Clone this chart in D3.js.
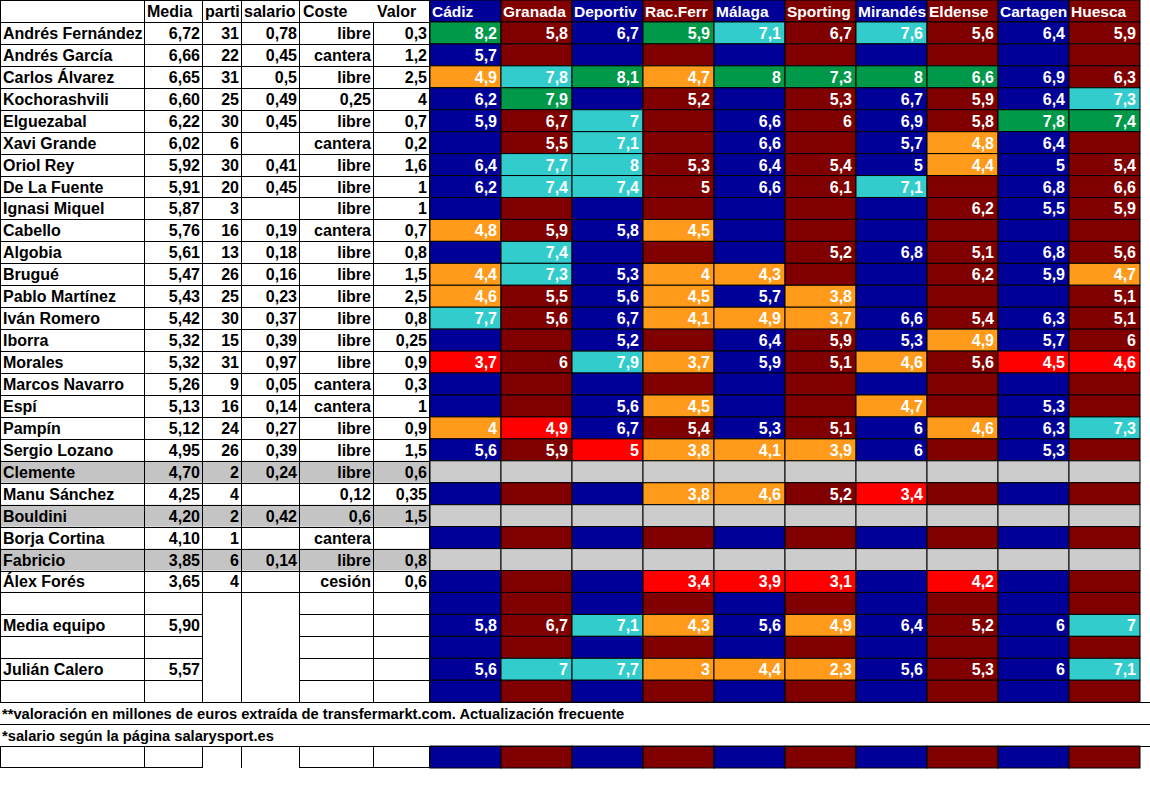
<!DOCTYPE html>
<html><head><meta charset="utf-8">
<script src="https://cdn.jsdelivr.net/npm/d3@7"></script>
<style>
body{margin:0;background:#fff}
svg{display:block}
text{font-family:Arial,"Liberation Sans",sans-serif;font-weight:bold;font-size:16px}
text.note{font-size:14.7px}
text.th{font-size:15.5px}
</style>
</head><body><svg id="c" width="1150" height="790"></svg>
<script>
// ---------- DATA ----------
const teams = ["Cádiz","Granada","Deportivo","Rac.Ferrol","Málaga","Sporting","Mirandés","Eldense","Cartagena","Huesca"];
const teamBase = ["b","m","b","m","b","m","b","m","b","m"];
const headers = ["","Media","parti","salario","Coste","Valor"];
const players = ["Andrés Fernández","Andrés García","Carlos Álvarez","Kochorashvili","Elguezabal","Xavi Grande","Oriol Rey","De La Fuente","Ignasi Miquel","Cabello","Algobia","Brugué","Pablo Martínez","Iván Romero","Iborra","Morales","Marcos Navarro","Espí","Pampín","Sergio Lozano","Clemente","Manu Sánchez","Bouldini","Borja Cortina","Fabricio","Álex Forés","","Media equipo","","Julián Calero",""];
const media = ["6,72","6,66","6,65","6,60","6,22","6,02","5,92","5,91","5,87","5,76","5,61","5,47","5,43","5,42","5,32","5,32","5,26","5,13","5,12","4,95","4,70","4,25","4,20","4,10","3,85","3,65","","5,90","","5,57",""];
const partidos = ["31","22","31","25","30","6","30","20","3","16","13","26","25","30","15","31","9","16","24","26","2","4","2","1","6","4","","","","",""];
const salario = ["0,78","0,45","0,5","0,49","0,45","","0,41","0,45","","0,19","0,18","0,16","0,23","0,37","0,39","0,97","0,05","0,14","0,27","0,39","0,24","","0,42","","0,14","","","","","",""];
const coste = ["libre","cantera","libre","0,25","libre","cantera","libre","libre","libre","cantera","libre","libre","libre","libre","libre","libre","cantera","cantera","libre","libre","libre","0,12","0,6","cantera","libre","cesión","","","","",""];
const valor = ["0,3","1,2","2,5","4","0,7","0,2","1,6","1","1","0,7","0,8","1,5","2,5","0,8","0,25","0,9","0,3","1","0,9","1,5","0,6","0,35","1,5","","0,8","0,6","","","","",""];
const grayRows = ["Clemente","Bouldini","Fabricio"];
const N = null;
const ratings = [
  [8.2,5.8,6.7,5.9,7.1,6.7,7.6,5.6,6.4,5.9],
  [5.7,N,N,N,N,N,N,N,N,N],
  [4.9,7.8,8.1,4.7,8,7.3,8,6.6,6.9,6.3],
  [6.2,7.9,N,5.2,N,5.3,6.7,5.9,6.4,7.3],
  [5.9,6.7,7,N,6.6,6,6.9,5.8,7.8,7.4],
  [N,5.5,7.1,N,6.6,N,5.7,4.8,6.4,N],
  [6.4,7.7,8,5.3,6.4,5.4,5,4.4,5,5.4],
  [6.2,7.4,7.4,5,6.6,6.1,7.1,N,6.8,6.6],
  [N,N,N,N,N,N,N,6.2,5.5,5.9],
  [4.8,5.9,5.8,4.5,N,N,N,N,N,N],
  [N,7.4,N,N,N,5.2,6.8,5.1,6.8,5.6],
  [4.4,7.3,5.3,4,4.3,N,N,6.2,5.9,4.7],
  [4.6,5.5,5.6,4.5,5.7,3.8,N,N,N,5.1],
  [7.7,5.6,6.7,4.1,4.9,3.7,6.6,5.4,6.3,5.1],
  [N,N,5.2,N,6.4,5.9,5.3,4.9,5.7,6],
  [3.7,6,7.9,3.7,5.9,5.1,4.6,5.6,4.5,4.6],
  [N,N,N,N,N,N,N,N,N,N],
  [N,N,5.6,4.5,N,N,4.7,N,5.3,N],
  [4,4.9,6.7,5.4,5.3,5.1,6,4.6,6.3,7.3],
  [5.6,5.9,5,3.8,4.1,3.9,6,N,5.3,N],
  [N,N,N,N,N,N,N,N,N,N],
  [N,N,N,3.8,4.6,5.2,3.4,N,N,N],
  [N,N,N,N,N,N,N,N,N,N],
  [N,N,N,N,N,N,N,N,N,N],
  [N,N,N,N,N,N,N,N,N,N],
  [N,N,N,3.4,3.9,3.1,N,4.2,N,N],
  [N,N,N,N,N,N,N,N,N,N],
  [5.8,6.7,7.1,4.3,5.6,4.9,6.4,5.2,6,7],
  [N,N,N,N,N,N,N,N,N,N],
  [5.6,7,7.7,3,4.4,2.3,5.6,5.3,6,7.1],
  [N,N,N,N,N,N,N,N,N,N]
];
// g = mejor (verde), c = >=7 (cian), o = bajo (naranja), r = peor (rojo), - = sin marca
const marks = [
  "g--gc-c---","----------","ocgogggg--","-g-------c","--c-----gg","--c----o--",
  "-cc----o--","-cc---c---","----------","o--o------","-c--------","oc-oo----o",
  "o--o-o----","c--ooo----","-------o--","r-co--o-rr","----------","---o--o---",
  "or-----o-c","--rooo----","----------","---oo-r---","----------","----------",
  "----------","---rrr-r--","----------","--co-o---c","----------","-ccooo---c","----------"
];
const notes = ["**valoración en millones de euros extraída de transfermarkt.com. Actualización frecuente",
               "*salario según la página salarysport.es"];

// ---------- LAYOUT ----------
const palette = {b:"#000099", m:"#800000", g:"#00994A", c:"#33CCCC", o:"#FF9A1A", r:"#FF0000", gray:"#CCCCCC"};
const svg = d3.select("#c");
const y = d3.scaleLinear().domain([0,35]).range([0,768]);
const rh = y(1)-y(0);
const colEdges = [0,145,203,242,300,374,430];
const x = d3.scaleBand().domain(teams).range([430,1140]).paddingInner(0).paddingOuter(0);
const bw = x.bandwidth();
const nData = players.length;
const isGray = i => grayRows.includes(players[i]);
const ty = r => y(r) + rh/2 + 6;

const gL = svg.append("g");
players.forEach((p,i)=>{
  if(isGray(i)) gL.append("rect").attr("x",0).attr("y",y(i+1)).attr("width",430).attr("height",rh).attr("fill","#C4C4C4");
});

const gT = svg.append("g");
const cellRows = [0].concat(d3.range(1,nData+1)).concat([34]);
cellRows.forEach(r=>{
  teams.forEach((t,j)=>{
    let fill = palette[teamBase[j]];
    if(r>=1 && r<=nData){
      const i=r-1;
      if(isGray(i)) fill = palette.gray;
      else { const m = marks[i][j]; if(m!=="-") fill = palette[m]; }
    }
    gT.append("rect").attr("x",x(t)).attr("y",y(r)).attr("width",bw).attr("height",rh)
      .attr("fill",fill).attr("stroke","#000").attr("stroke-width",1);
  });
});

// team headers: cut at the cell edge like a spreadsheet cell
teams.forEach((t,j)=>{
  const el = svg.append("text").attr("class","th").attr("x",x(t)+2).attr("y",ty(0)).attr("fill","#fff").text(t);
  let s = t;
  while(el.node().getComputedTextLength() > bw-1.5 && s.length>1){
    s = s.slice(0,-1); el.text(s);
  }
});

const fmt = v => String(v).replace(".",",");
ratings.forEach((row,i)=>{
  row.forEach((v,j)=>{
    if(v===null) return;
    svg.append("text").attr("x",x(teams[j])+bw-4).attr("y",ty(i+1))
      .attr("text-anchor","end").attr("fill","#fff").text(fmt(v));
  });
});

const gG = svg.append("g").attr("stroke","#000").attr("stroke-width",1).attr("shape-rendering","crispEdges");
const hl = (x1,x2,yy)=>gG.append("line").attr("x1",x1).attr("x2",x2).attr("y1",yy).attr("y2",yy);
const vl = (xx,y1,y2)=>gG.append("line").attr("x1",xx).attr("x2",xx).attr("y1",y1).attr("y2",y2);
for(let r=0;r<=27;r++) hl(0,430,Math.round(y(r))+0.5);
for(let r=28;r<=31;r++){ hl(0,203,Math.round(y(r))+0.5); hl(300,430,Math.round(y(r))+0.5); }
[32,33,34].forEach(r=>hl(0,1150,Math.round(y(r))+0.5));
hl(0,203,Math.round(y(35))-0.5); hl(300,430,Math.round(y(35))-0.5);
colEdges.forEach(cx=>{
  const xx = cx===0?0.5:cx-0.5;
  const top = cx===374 ? y(1) : 0;
  vl(xx,top,y(32));
  vl(xx,y(34),y(35));
});

const hx = [3,147,205,244,303,377];
headers.forEach((h,k)=>{ if(h) svg.append("text").attr("x",hx[k]).attr("y",ty(0)).attr("fill","#000").text(h); });

const cols = [media,partidos,salario,coste,valor];
players.forEach((p,i)=>{
  if(p) svg.append("text").attr("x",3).attr("y",ty(i+1)).attr("fill","#000").text(p);
  cols.forEach((arr,k)=>{
    if(arr[i]) svg.append("text").attr("x",colEdges[k+2]-3).attr("y",ty(i+1))
      .attr("text-anchor","end").attr("fill","#000").text(arr[i]);
  });
});

notes.forEach((n,k)=>{
  svg.append("text").attr("class","note").attr("x",2).attr("y",ty(32+k)).attr("fill","#000").text(n);
});
</script></body></html>
